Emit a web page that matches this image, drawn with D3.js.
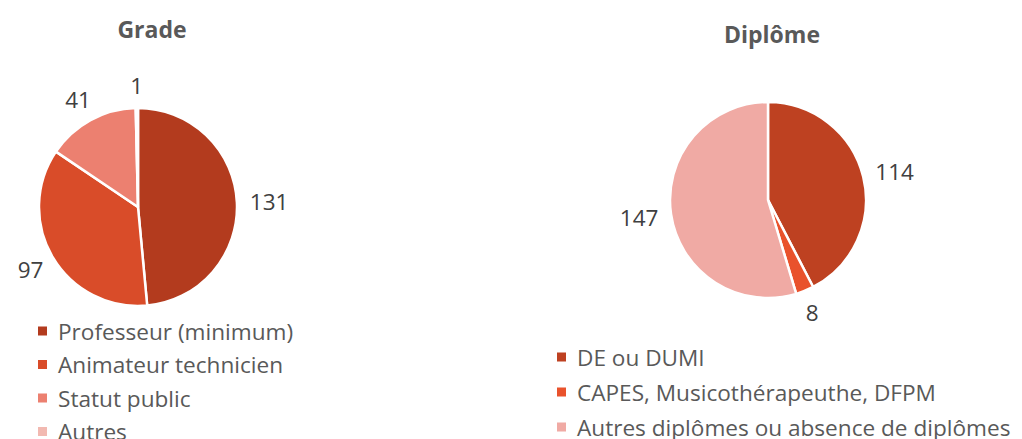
<!DOCTYPE html>
<html>
<head>
<meta charset="utf-8">
<script src="https://cdn.jsdelivr.net/npm/d3@7"></script>
<style>
  body { margin: 0; background: #fff; }
  svg text { font-family: "Open Sans", Lato, sans-serif; }
</style>
</head>
<body>
<div id="chart"></div>
<script>
// data
var gradeLabels = ["Professeur (minimum)", "Animateur technicien", "Statut public", "Autres"];
var gradeValues = [131, 97, 41, 1];
var gradeColors = ["#b33b1e", "#d94c29", "#ec8070", "#f2b9b1"];

var diplomeLabels = ["DE ou DUMI", "CAPES, Musicothérapeuthe, DFPM", "Autres diplômes ou absence de diplômes"];
var diplomeValues = [114, 8, 147];
var diplomeColors = ["#be4121", "#e9522c", "#f0aaa4"];

var width = 1022, height = 439;

var svg = d3.select("#chart")
  .append("svg")
    .attr("width", width)
    .attr("height", height);

// one pie with title, outside labels and legend
function drawPie(opts) {
  var g = svg.append("g");

  g.append("text")
    .attr("x", opts.titleX)
    .attr("y", opts.titleY)
    .attr("text-anchor", "middle")
    .attr("font-size", 23)
    .attr("font-weight", "bold")
    .attr("fill", "#595959")
    .text(opts.title);

  var pie = d3.pie().sort(null).value(function(d){ return d; });
  var arcs = pie(opts.values);
  var arc = d3.arc().innerRadius(0).outerRadius(opts.r);

  var pg = g.append("g")
    .attr("transform", "translate(" + opts.cx + "," + opts.cy + ")");

  pg.selectAll("path")
    .data(arcs)
    .enter()
    .append("path")
      .attr("d", arc)
      .attr("fill", function(d, i){ return opts.colors[i]; })
      .attr("stroke", "#fff")
      .attr("stroke-width", 2.5)
      .attr("stroke-linejoin", "round");

  // labels: box placed just outside the rim, along the mid angle
  var fs = 22.5, pad = 13;
  pg.selectAll("text.lbl")
    .data(arcs)
    .enter()
    .append("text")
      .attr("class", "lbl")
      .attr("font-size", fs)
      .attr("fill", "#404040")
      .attr("text-anchor", "middle")
      .attr("dominant-baseline", "central")
      .text(function(d){ return d.value; })
      .each(function(d){
        var a = (d.startAngle + d.endAngle) / 2;
        var dx = Math.sin(a), dy = -Math.cos(a);
        var w = this.getComputedTextLength(), h = 20;
        var x = dx * (opts.r + pad) + dx * w / 2;
        var y = dy * (opts.r + pad) + dy * h / 2;
        d3.select(this).attr("x", x).attr("y", y);
      });

  // legend
  var lg = g.append("g")
    .attr("transform", "translate(" + opts.legX + "," + opts.legY + ")");
  var rows = lg.selectAll("g")
    .data(opts.labels)
    .enter()
    .append("g")
      .attr("transform", function(d, i){ return "translate(0," + (i * opts.legStep) + ")"; });
  rows.append("rect")
    .attr("x", 0)
    .attr("y", -4.5)
    .attr("width", 9)
    .attr("height", 9)
    .attr("fill", function(d, i){ return opts.colors[i]; });
  rows.append("text")
    .attr("x", opts.legTextDx)
    .attr("y", 0)
    .attr("dominant-baseline", "central")
    .attr("font-size", 22.6)
    .attr("fill", "#595959")
    .text(function(d){ return d; });
}

drawPie({
  title: "Grade", titleX: 152, titleY: 38,
  values: gradeValues, colors: gradeColors, labels: gradeLabels,
  cx: 138, cy: 207, r: 99,
  legX: 38, legY: 331, legStep: 33.5, legTextDx: 20
});

drawPie({
  title: "Diplôme", titleX: 772, titleY: 43,
  values: diplomeValues, colors: diplomeColors, labels: diplomeLabels,
  cx: 768, cy: 200, r: 98,
  legX: 557, legY: 357, legStep: 35, legTextDx: 20
});
</script>
</body>
</html>
